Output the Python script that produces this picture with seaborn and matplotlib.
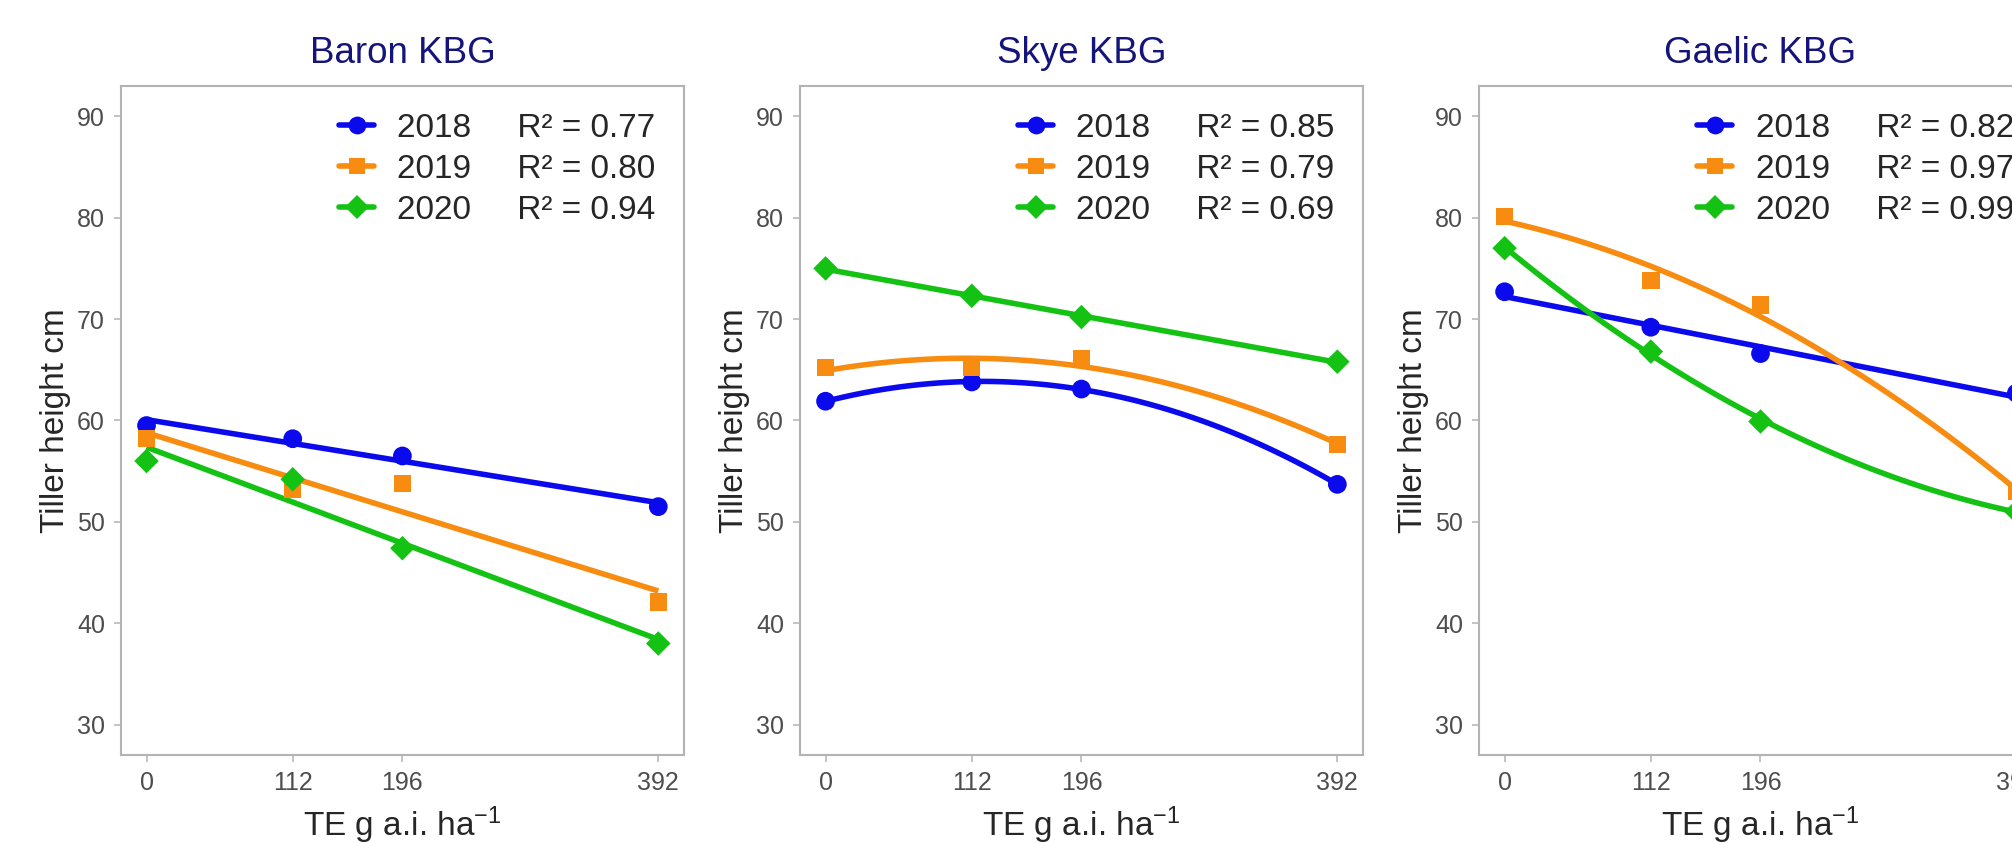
import numpy as np
import pandas as pd
import matplotlib
matplotlib.use('Agg')
import matplotlib.pyplot as plt
import seaborn as sns
from matplotlib.lines import Line2D

# TE rates (g a.i. per ha)
doses = [0, 112, 196, 392]
years = ['2018', '2019', '2020']
cultivars = ['Baron KBG', 'Skye KBG', 'Gaelic KBG']

# tiller height (cm)
baron_2018 = [59.5, 58.2, 56.5, 51.5]
baron_2019 = [58.2, 53.2, 53.8, 42.1]
baron_2020 = [56.0, 54.2, 47.4, 38.0]

skye_2018 = [61.9, 63.8, 63.1, 53.7]
skye_2019 = [65.2, 65.2, 66.1, 57.6]
skye_2020 = [75.0, 72.3, 70.2, 65.8]

gaelic_2018 = [72.7, 69.2, 66.6, 62.7]
gaelic_2019 = [80.1, 73.8, 71.4, 53.0]
gaelic_2020 = [77.0, 66.8, 59.9, 51.0]

# R squared of each fit and polynomial order of the fit
baron_r2 = ['0.77', '0.80', '0.94']
skye_r2 = ['0.85', '0.79', '0.69']
gaelic_r2 = ['0.82', '0.97', '0.99']

baron_order = [1, 1, 1]
skye_order = [2, 2, 1]
gaelic_order = [1, 2, 2]

colours = ['#0A0AEC', '#F88C10', '#14C214']
markers = ['o', 's', 'D']
msizes = [13.5, 12.5, 12.5]
lw = 4

sns.set_theme(style='white')
plt.rcParams['font.family'] = ['Liberation Sans', 'DejaVu Sans']
plt.rcParams['mathtext.fontset'] = 'custom'
plt.rcParams['mathtext.rm'] = 'Liberation Sans'
plt.rcParams['mathtext.it'] = 'Liberation Sans:italic'

panels = [
    (cultivars[0], [baron_2018, baron_2019, baron_2020], baron_order, baron_r2),
    (cultivars[1], [skye_2018, skye_2019, skye_2020], skye_order, skye_r2),
    (cultivars[2], [gaelic_2018, gaelic_2019, gaelic_2020], gaelic_order, gaelic_r2),
]

fig = plt.figure(figsize=(20.12, 8.43), dpi=100)
panel_lefts = [0.0601, 0.3976, 0.7351]

for left, (name, series, orders, r2s) in zip(panel_lefts, panels):
    ax = fig.add_axes([left, 0.1044, 0.2798, 0.7936])
    handles, labels = [], []
    for yr, vals, order, r2, c, m, ms in zip(years, series, orders, r2s, colours, markers, msizes):
        df = pd.DataFrame({'dose': doses, 'height': vals})
        sns.regplot(data=df, x='dose', y='height', order=order, ci=None, scatter=False,
                    color=c, line_kws={'lw': lw, 'solid_capstyle': 'butt'}, ax=ax)
        sns.scatterplot(data=df, x='dose', y='height', marker=m, s=ms**2, color=c,
                        edgecolor='none', linewidth=0, ax=ax, zorder=3, legend=False)
        handles.append(Line2D([], [], color=c, lw=lw, marker=m,
                              markersize=ms * 0.95, markeredgewidth=0))
        labels.append(f'{yr}     R\u00b2 = {r2}')

    ax.set_xlim(-19.6, 411.6)
    ax.set_ylim(27, 93)
    ax.set_xticks(doses)
    ax.set_yticks(range(30, 91, 10))
    for sp in ax.spines.values():
        sp.set_color('#B3B3B3')
        sp.set_linewidth(1.5)
    ax.tick_params(axis='both', direction='out', length=5, width=1.1, color='#B3B3B3',
                   labelsize=18, labelcolor='#4D4D4D', pad=6.5, bottom=True, left=True)
    ax.set_title(name, fontsize=26.5, color='#14147A', pad=16.5)
    ax.set_xlabel('TE g a.i. ha$^{-1}$', fontsize=24, labelpad=7)
    ax.set_ylabel('Tiller height cm', fontsize=24, labelpad=4.5)
    ax.legend(handles, labels, loc='upper right', bbox_to_anchor=(0.950, 0.9595),
              frameon=False, fontsize=24, handlelength=1.05, handletextpad=0.7,
              labelspacing=0.30, borderaxespad=0, borderpad=0)

fig.savefig('out.png', dpi=100)
